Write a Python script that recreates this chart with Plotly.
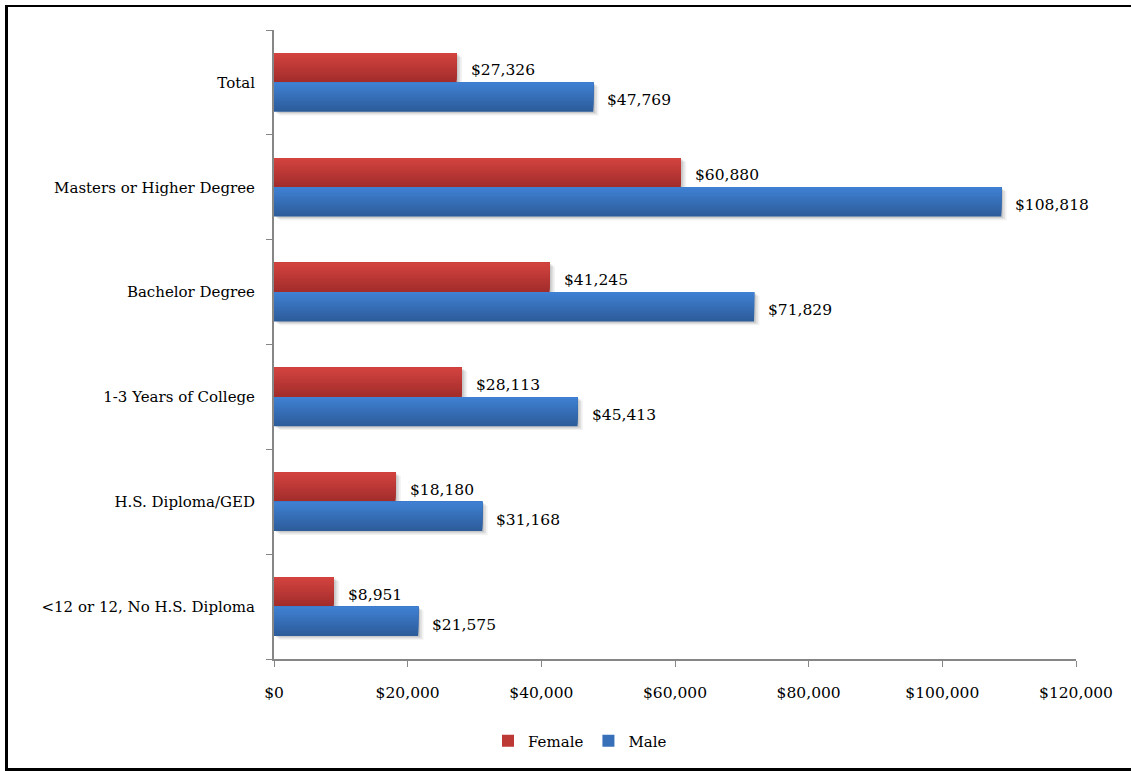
import plotly.graph_objects as go

# Median earnings by educational attainment and sex
categories = [
    "<12 or 12, No H.S. Diploma",
    "H.S. Diploma/GED",
    "1-3 Years of College",
    "Bachelor Degree",
    "Masters or Higher Degree",
    "Total",
]
female = [8951, 18180, 28113, 41245, 60880, 27326]
male = [21575, 31168, 45413, 71829, 108818, 47769]
x_ticks = [0, 20000, 40000, 60000, 80000, 100000, 120000]
x_tick_labels = [f"${v:,}" for v in x_ticks]

W, H = 1132, 771
M_L, M_R, M_T, M_B = 274, 56, 30, 112
PW, PH = W - M_L - M_R, H - M_T - M_B

FONT = "DejaVu Serif"
BAR_W = 0.28          # bar thickness in category units
N_STRIPS = 14         # strips used to shade each bar top-to-bottom


def mix(c1, c2, t):
    return "rgb({},{},{})".format(*[round(a + (b - a) * t) for a, b in zip(c1, c2)])


def px_x(p):
    return (p - M_L) / PW


def px_y(p):
    return (H - M_B - p) / PH


fig = go.Figure()

# soft drop shadow behind each series
shadow_dx = 450  # dollars (~3 px)
for vals, off in ((female, 0.0), (male, -BAR_W)):
    for k, alpha in ((1, 0.10), (2, 0.08), (3, 0.05)):
        fig.add_trace(go.Bar(
            y=categories, x=vals, orientation="h",
            base=shadow_dx * k * 0.6,
            offset=off - 0.012 * k, width=BAR_W,
            marker=dict(color=f"rgba(0,0,0,{alpha})", line=dict(width=0)),
            showlegend=False, hoverinfo="skip",
        ))

series = [
    ("Female", female, 0.0, (0xA2, 0x2D, 0x2B), (0xD2, 0x43, 0x3F)),
    ("Male", male, -BAR_W, (0x2D, 0x5C, 0x9B), (0x3F, 0x80, 0xD2)),
]
for name, vals, off, dark, light in series:
    # overlapping strips, each reaching to the top of the bar, lighter upward
    for i in range(N_STRIPS):
        t = i / (N_STRIPS - 1)
        start = off + BAR_W * i / N_STRIPS
        fig.add_trace(go.Bar(
            y=categories, x=vals, orientation="h",
            offset=start, width=off + BAR_W - start,
            marker=dict(color=mix(dark, light, t), line=dict(width=0)),
            name=name, legendgroup=name,
            showlegend=(i == N_STRIPS // 2),
            hovertemplate=f"{name}: %{{x:$,}}<extra></extra>",
        ))

# value labels just past the bar ends
for name, vals, yshift in (("Female", female, 12), ("Male", male, -18)):
    for cat, v in zip(categories, vals):
        fig.add_annotation(
            x=v, y=cat, text=f"${v:,}", showarrow=False,
            xanchor="left", yanchor="middle", xshift=12, yshift=yshift,
            font=dict(family=FONT, size=15.5, color="black"),
        )

# outer frame: thin top edge, heavier left and bottom edges
fig.add_shape(type="line", xref="paper", yref="paper",
              x0=px_x(5), x1=px_x(1131), y0=px_y(6), y1=px_y(6),
              line=dict(color="black", width=2))
fig.add_shape(type="line", xref="paper", yref="paper",
              x0=px_x(6.5), x1=px_x(6.5), y0=px_y(5), y1=px_y(770),
              line=dict(color="black", width=3))
fig.add_shape(type="line", xref="paper", yref="paper",
              x0=px_x(5), x1=px_x(1131), y0=px_y(769.5), y1=px_y(769.5),
              line=dict(color="black", width=3))

fig.update_layout(
    width=W, height=H,
    margin=dict(l=M_L, r=M_R, t=M_T, b=M_B),
    barmode="overlay",
    plot_bgcolor="white", paper_bgcolor="white",
    font=dict(family=FONT, size=14, color="black"),
    legend=dict(
        orientation="h", x=px_x(580), xanchor="center",
        y=px_y(741), yanchor="middle",
        font=dict(family=FONT, size=15), itemwidth=30,
        traceorder="normal",
    ),
    xaxis=dict(
        range=[0, 120000], tickvals=x_ticks, ticktext=x_tick_labels,
        showgrid=False, zeroline=False, showline=True, linecolor="#868686",
        linewidth=2, ticks="outside", ticklen=6, tickcolor="#868686",
        ticklabelstandoff=12, tickfont=dict(family=FONT, size=15.5),
    ),
    yaxis=dict(
        categoryorder="array", categoryarray=categories,
        range=[-0.5, 5.5],
        showgrid=False, zeroline=False, showline=True, linecolor="#868686",
        linewidth=2, ticks="outside", ticklen=6, tickcolor="#868686",
        tickson="boundaries", ticklabelstandoff=14,
        tickfont=dict(family=FONT, size=15),
    ),
)

fig.write_html("out.html")
